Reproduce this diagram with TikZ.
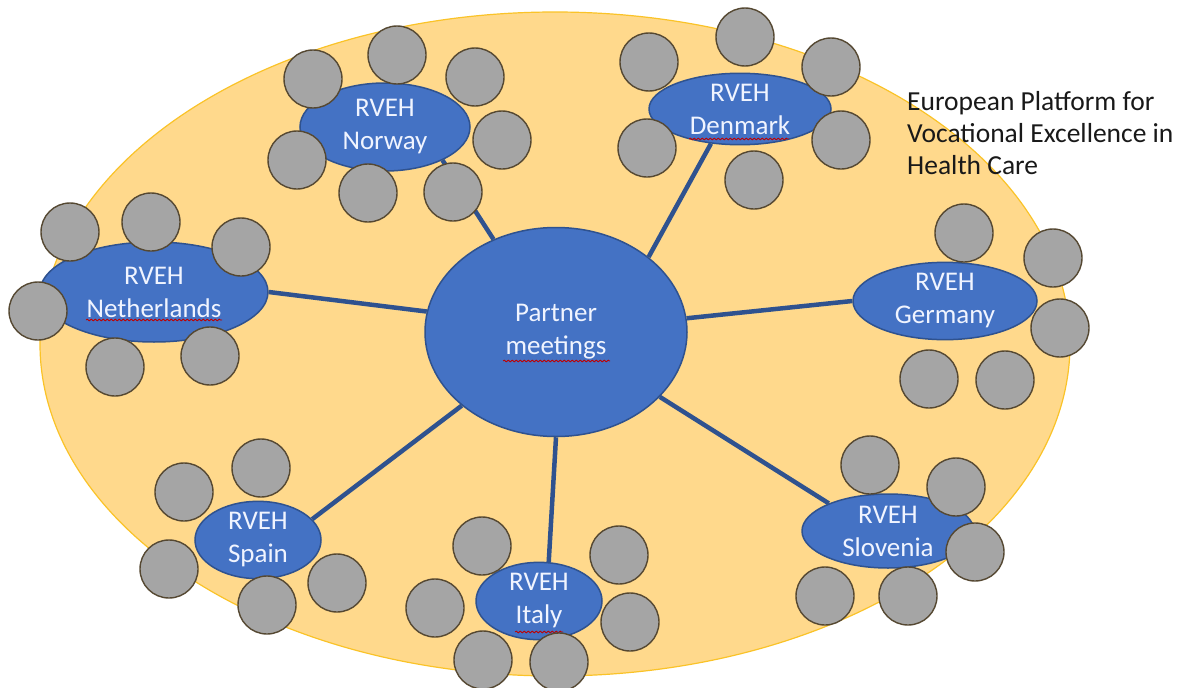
\documentclass[tikz,border=0pt]{standalone}
\usepackage{fontspec}
\setmainfont{Carlito}
\usetikzlibrary{shapes.geometric,decorations.pathmorphing}

\definecolor{platfill}{RGB}{255,217,140}
\definecolor{platline}{RGB}{250,195,40}
\definecolor{bluefill}{RGB}{68,114,196}
\definecolor{blueline}{RGB}{47,82,143}
\definecolor{grayfill}{RGB}{165,165,165}
\definecolor{grayline}{RGB}{85,72,50}
\definecolor{labelwhite}{RGB}{240,244,255}

\begin{document}
\begin{tikzpicture}[x=1pt,y=-1pt,
  platform/.style={ellipse, fill=platfill, draw=platline, line width=1.2pt, inner sep=0pt},
  hub/.style={ellipse, fill=bluefill, draw=blueline, line width=1.5pt, inner sep=0pt,
    text=labelwhite, align=center, font=\fontsize{27}{33}\selectfont},
  member/.style={circle, fill=grayfill, draw=grayline, line width=1.4pt, minimum size=58pt, inner sep=0pt},
  link/.style={draw=blueline, line width=4.5pt},
  spell/.style={draw=red!75!black, line width=0.8pt, decorate,
    decoration={snake, amplitude=0.9pt, segment length=4pt}},
  title/.style={align=left, inner sep=0pt, text=black!90, font=\fontsize{27.5}{32}\selectfont}
]
\useasboundingbox (0,0) rectangle (1181,688);

% platform
\node[platform, minimum width=1030pt, minimum height=664pt] (platform) at (555,344) {};

% hubs
\node[hub, minimum width=262pt, minimum height=209pt] (partner) at (556,332) {Partner\\meetings};
\node[hub, minimum width=170pt, minimum height=88pt] (norway) at (385,127) {RVEH\\Norway};
\node[hub, minimum width=182pt, minimum height=64pt] (denmark) at (740,109) {RVEH\\Denmark};
\node[hub, minimum width=228pt, minimum height=100pt] (netherlands) at (154,292) {RVEH\\Netherlands};
\node[hub, minimum width=184pt, minimum height=76pt] (germany) at (945,301) {RVEH\\Germany};
\node[hub, minimum width=126pt, minimum height=66pt] (spain) at (258,540) {RVEH\\Spain};
\node[hub, minimum width=126pt, minimum height=62pt] (italy) at (539,601) {RVEH\\Italy};
\node[hub, minimum width=172pt, minimum height=74pt] (slovenia) at (888,531) {RVEH\\Slovenia};

% spelling marks
\draw[spell] (86,320) -- (222,320);
\draw[spell] (689,139) -- (789,139);
\draw[spell] (515,632) -- (563,632);
\draw[spell] (503,361) -- (610,361);

% connectors
\draw[link] (partner.124) -- (norway.330);
\draw[link] (partner.39) -- (denmark.230);
\draw[link] (partner.171) -- (netherlands.0);
\draw[link] (partner.6) -- (germany.180);
\draw[link] (partner.218) -- (spain.21);
\draw[link] (partner.270) -- (italy.76);
\draw[link] (partner.328) -- (slovenia.155);

% members: Norway
\node[member] (no1) at (313,79) {};
\node[member] (no2) at (397,55) {};
\node[member] (no3) at (475,77) {};
\node[member] (no4) at (502,140) {};
\node[member] (no5) at (297,160) {};
\node[member] (no6) at (368,193) {};
\node[member] (no7) at (453,192) {};
% Netherlands
\node[member] (nl1) at (70,232) {};
\node[member] (nl2) at (151,222) {};
\node[member] (nl3) at (241,247) {};
\node[member] (nl4) at (38,311) {};
\node[member] (nl5) at (115,367) {};
\node[member] (nl6) at (210,356) {};
% Denmark
\node[member] (dk1) at (649,62) {};
\node[member] (dk2) at (745,37) {};
\node[member] (dk3) at (831,67) {};
\node[member] (dk4) at (647,148) {};
\node[member] (dk5) at (841,140) {};
\node[member] (dk6) at (754,180) {};
% Germany
\node[member] (de1) at (964,233) {};
\node[member] (de2) at (1053,258) {};
\node[member] (de3) at (1060,328) {};
\node[member] (de4) at (929,379) {};
\node[member] (de5) at (1005,380) {};
% Slovenia
\node[member] (si1) at (870,465) {};
\node[member] (si2) at (956,487) {};
\node[member] (si3) at (975,552) {};
\node[member] (si4) at (825,596) {};
\node[member] (si5) at (908,596) {};
% Italy
\node[member] (it1) at (482,546) {};
\node[member] (it2) at (619,555) {};
\node[member] (it3) at (435,608) {};
\node[member] (it4) at (630,622) {};
\node[member] (it5) at (483,660) {};
\node[member] (it6) at (559,662) {};
% Spain
\node[member] (es1) at (261,468) {};
\node[member] (es2) at (184,492) {};
\node[member] (es3) at (169,569) {};
\node[member] (es4) at (267,605) {};
\node[member] (es5) at (337,583) {};

% title (base anchor is the baseline of the last line)
\node[title, anchor=base west] (title) at (907,174) {European Platform for\\Vocational Excellence in\\Health Care};
\end{tikzpicture}
\end{document}
